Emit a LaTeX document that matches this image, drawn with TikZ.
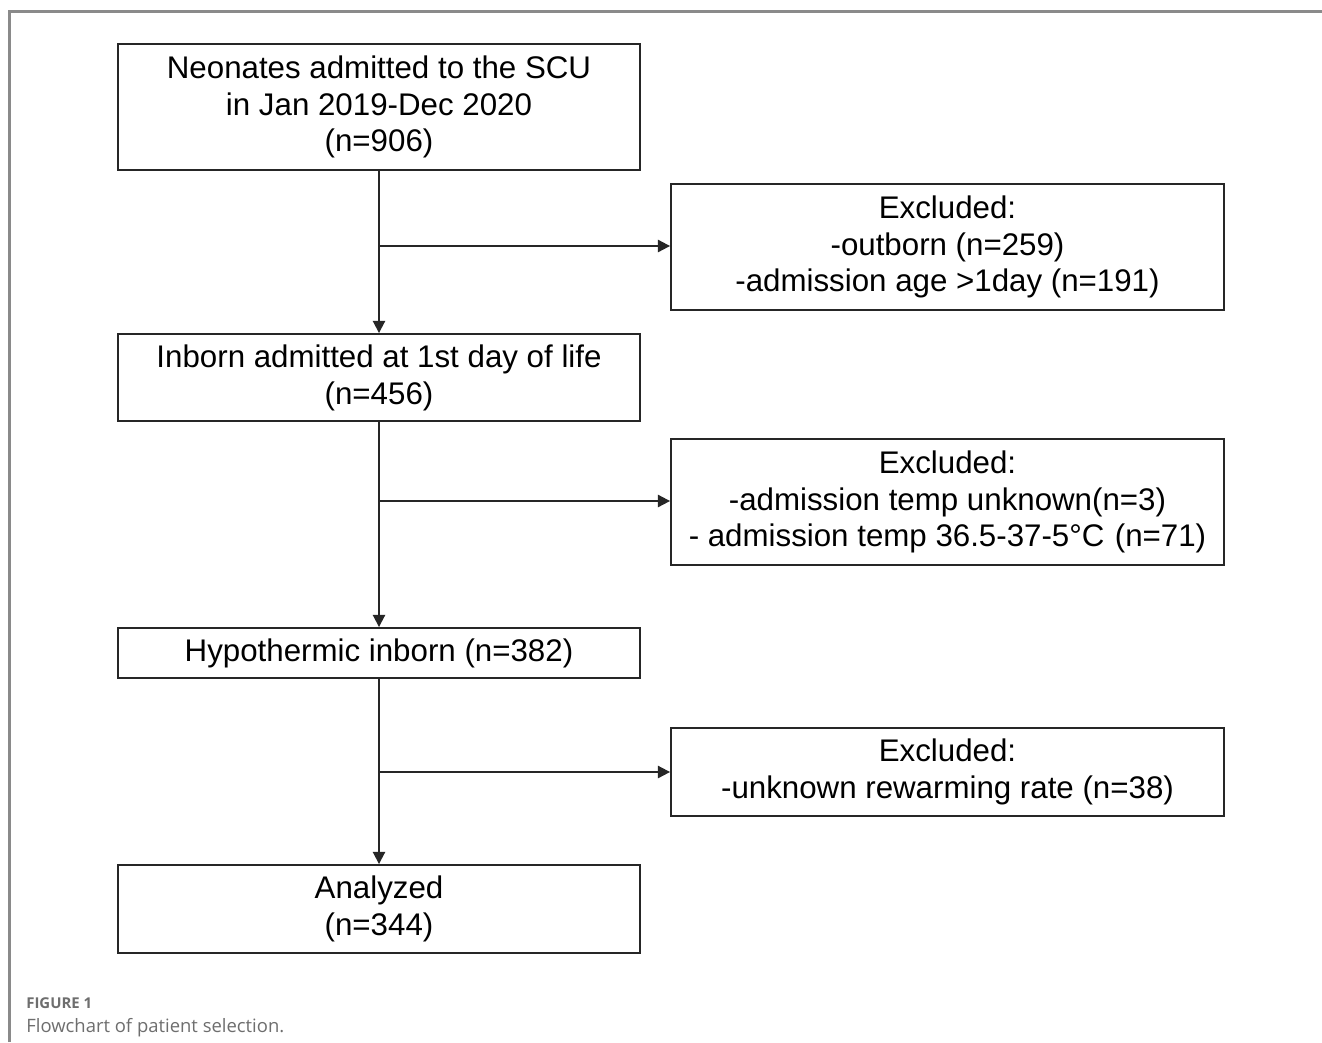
\documentclass[tikz,border=0pt]{standalone}
\usepackage{fontspec}
\setmainfont{Liberation Sans}
\newfontfamily\capfont{Open Sans}
\usetikzlibrary{arrows.meta}
\definecolor{framegray}{HTML}{8A8A8A}
\definecolor{boxline}{HTML}{262626}
\definecolor{capgray}{HTML}{6E6E6E}
\begin{document}
\begin{tikzpicture}[x=0.02cm,y=-0.02cm,
  box/.style={draw=boxline,line width=1.1pt,align=center,inner sep=0pt,
    font=\fontsize{17.8}{21}\selectfont,text=black},
  mainbox/.style={box,minimum width=10.44cm},
  exbox/.style={box,minimum width=11.06cm},
  conn/.style={draw=boxline,line width=1.1pt},
  arr/.style={conn,-{Triangle[length=7pt,width=7pt]}}]
\useasboundingbox (0,0) rectangle (1322,1042);
\fill[white] (0,0) rectangle (1322,1042);
\draw[framegray,line width=1.2pt] (9.5,1042) -- (9.5,11.5) -- (1322,11.5);

\node[mainbox,minimum height=2.52cm] (b1) at (379,107) {Neonates admitted to the SCU\\in Jan 2019-Dec 2020\\(n=906)};
\node[exbox,minimum height=2.52cm] (e1) at (947.5,247) {Excluded:\\-outborn (n=259)\\-admission age \textgreater1day (n=191)};
\node[mainbox,minimum height=1.74cm] (b2) at (379,377.5) {Inborn admitted at 1st day of life\\(n=456)};
\node[exbox,minimum height=2.52cm] (e2) at (947.5,502) {Excluded:\\-admission temp unknown(n=3)\\- admission temp 36.5-37-5°C\,\,(n=71)};
\node[mainbox,minimum height=1.0cm] (b3) at (379,653) {Hypothermic inborn (n=382)};
\node[exbox,minimum height=1.76cm] (e3) at (947.5,772) {Excluded:\\-unknown rewarming rate (n=38)};
\node[mainbox,minimum height=1.76cm] (b4) at (379,909) {Analyzed\\(n=344)};

\coordinate (j1) at (379,246);
\coordinate (j2) at (379,501);
\coordinate (j3) at (379,772);
\draw[arr] (b1.south) -- (b2.north);
\draw[arr] (b2.south) -- (b3.north);
\draw[arr] (b3.south) -- (b4.north);
\draw[arr] (j1) -- (j1 -| e1.west);
\draw[arr] (j2) -- (j2 -| e2.west);
\draw[arr] (j3) -- (j3 -| e3.west);

\node[anchor=base west,inner sep=0pt,text=capgray,font=\capfont\bfseries\fontsize{8.5}{10}\selectfont] (cap1) at (26,1008) {FIGURE 1};
\node[anchor=base west,inner sep=0pt,text=capgray,font=\capfont\fontsize{10.5}{12}\selectfont] (cap2) at (26,1032) {Flowchart of patient selection.};
\end{tikzpicture}
\end{document}
